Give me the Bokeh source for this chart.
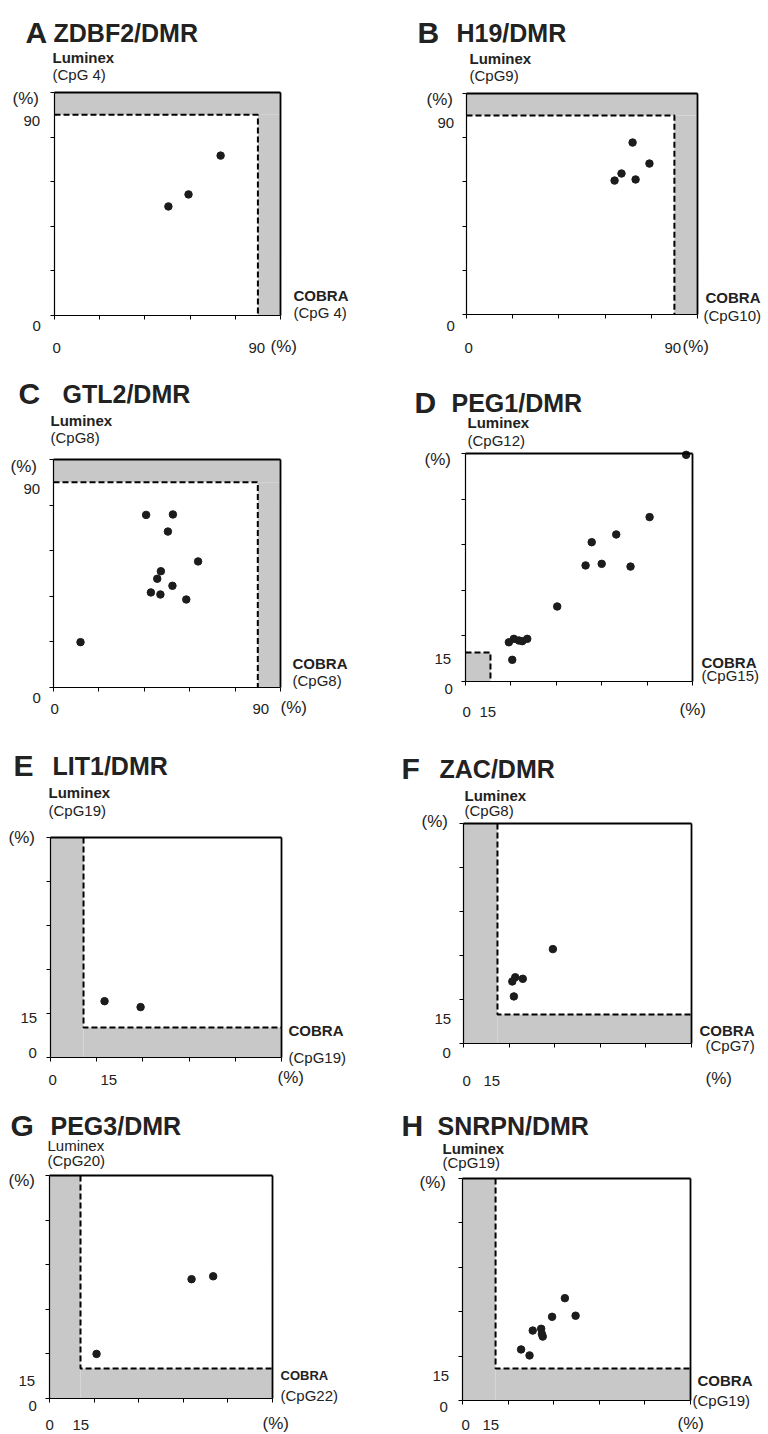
from bokeh.plotting import figure
from bokeh.layouts import column, row
from bokeh.models import Label, Range1d, LinearAxis
from bokeh.embed import file_html
from bokeh.resources import INLINE

# ---------------- data ----------------
panel_letters = ["A", "B", "C", "D", "E", "F", "G", "H"]
panel_genes = ["ZDBF2/DMR", "H19/DMR", "GTL2/DMR", "PEG1/DMR",
               "LIT1/DMR", "ZAC/DMR", "PEG3/DMR", "SNRPN/DMR"]
luminex_cpg = ["(CpG 4)", "(CpG9)", "(CpG8)", "(CpG12)",
               "(CpG19)", "(CpG8)", "(CpG20)", "(CpG19)"]
cobra_cpg = ["(CpG 4)", "(CpG10)", "(CpG8)", "(CpG15)",
             "(CpG19)", "(CpG7)", "(CpG22)", "(CpG19)"]
axis_ticks = [0, 20, 40, 60, 80, 100]

a_cobra = [50.4, 59.3, 73.5]
a_luminex = [48.9, 54.3, 71.7]
b_cobra = [64.1, 67.1, 71.9, 73.2, 79.2]
b_luminex = [60.6, 63.8, 77.8, 61.1, 68.3]
c_cobra = [11.9, 40.8, 52.6, 50.4, 63.7, 47.3, 45.7, 52.4, 42.9, 47.1, 58.5]
c_luminex = [19.9, 75.7, 75.9, 68.4, 55.3, 51.0, 47.7, 44.6, 41.7, 40.8, 38.6]
d_cobra = [97.2, 81.1, 66.4, 55.6, 52.9, 60.0, 72.7, 40.4, 19.1, 21.3, 23.5, 25.0, 27.2, 20.6]
d_luminex = [99.4, 72.1, 64.5, 61.1, 50.9, 51.6, 50.4, 32.9, 17.2, 18.7, 18.0, 17.7, 18.7, 9.5]
e_cobra = [23.4, 39.0]
e_luminex = [25.6, 22.9]
f_cobra = [39.2, 22.7, 21.4, 26.0, 22.1]
f_luminex = [42.9, 30.1, 28.2, 29.4, 21.4]
g_cobra = [21.1, 63.7, 73.4]
g_luminex = [20.0, 53.5, 54.8]
h_cobra = [25.7, 29.4, 30.8, 34.5, 34.8, 35.2, 39.3, 44.9, 49.6]
h_luminex = [23.0, 20.3, 31.5, 32.3, 30.0, 28.8, 37.7, 46.1, 38.2]

# cut-off lines as drawn (COBRA, Luminex)
cut_cobra = [90, 90, 90, 11.0, 14.3, 14.9, 13.9, 14.5]
cut_luminex = [90, 90, 90, 12.7, 13.6, 13.2, 13.5, 14.4]
cut_kind = ["high", "high", "high", "lowbox", "low", "low", "low", "low"]
ytick_text = [["90", "0"]] * 3 + [["15", "0"]] * 5
xtick_text = [["0", "90"]] * 3 + [["0", "15"]] * 5

all_cobra = [a_cobra, b_cobra, c_cobra, d_cobra, e_cobra, f_cobra, g_cobra, h_cobra]
all_luminex = [a_luminex, b_luminex, c_luminex, d_luminex, e_luminex, f_luminex, g_luminex, h_luminex]

# ---------------- layout (page pixels) ----------------
COL_X = [0, 384]
COL_W = [384, 384]
ROW_Y = [0, 358, 722, 1090]
ROW_H = [358, 364, 368, 344]

# plot boxes: left, top, right, bottom
frames = [(54, 92, 280, 315), (466, 93, 697, 314),
          (53, 459, 280, 687), (465, 453, 692, 681),
          (50, 837, 281, 1057), (463, 823, 691, 1043),
          (49, 1175, 272, 1398), (462, 1178, 690, 1400)]

# text anchors (left x, baseline y)
txt = [
    dict(letter=(25, 32), gene=(53, 32), lum=(52, 57), lcpg=(52, 74), pcty=(12, 98),
         ylab=[(23, 120), (32, 325)], xlab=[(52, 347), (248, 347)], pctx=(270, 346),
         cobra=(293, 295), ccpg=(293, 312)),
    dict(letter=(417, 32), gene=(456, 32), lum=(469, 58), lcpg=(469, 75), pcty=(426, 99),
         ylab=[(437, 122), (446, 325)], xlab=[(464, 347), (664, 347)], pctx=(682, 346),
         cobra=(705, 297), ccpg=(703, 315)),
    dict(letter=(18, 393), gene=(62, 393), lum=(50, 420), lcpg=(50, 437), pcty=(10, 466),
         ylab=[(23, 488), (32, 697)], xlab=[(50, 708), (252, 708)], pctx=(280, 707),
         cobra=(292, 663), ccpg=(292, 680)),
    dict(letter=(414, 402), gene=(451, 402), lum=(467, 422), lcpg=(467, 440), pcty=(424, 459),
         ylab=[(434, 658), (444, 688)], xlab=[(462, 711), (479, 711)], pctx=(679, 709),
         cobra=(701, 662), ccpg=(701, 675)),
    dict(letter=(13, 765), gene=(52, 765), lum=(48, 792), lcpg=(48, 810), pcty=(8, 837),
         ylab=[(20, 1017), (28, 1052)], xlab=[(48, 1079), (100, 1079)], pctx=(277, 1077),
         cobra=(288, 1030), ccpg=(288, 1057)),
    dict(letter=(401, 768), gene=(439, 768), lum=(464, 795), lcpg=(464, 810), pcty=(421, 821),
         ylab=[(434, 1018), (442, 1052)], xlab=[(462, 1080), (483, 1080)], pctx=(705, 1078),
         cobra=(699, 1030), ccpg=(705, 1045)),
    dict(letter=(10, 1125), gene=(50, 1125), lum=(47, 1145), lcpg=(47, 1160), pcty=(8, 1180),
         ylab=[(18, 1380), (28, 1405)], xlab=[(45, 1424), (72, 1424)], pctx=(262, 1423),
         cobra=(280, 1375), ccpg=(280, 1395)),
    dict(letter=(401, 1125), gene=(437, 1125), lum=(442, 1148), lcpg=(442, 1162), pcty=(419, 1182),
         ylab=[(432, 1375), (439, 1406)], xlab=[(461, 1424), (482, 1424)], pctx=(677, 1423),
         cobra=(697, 1380), ccpg=(692, 1400)),
]

FONT = "Liberation Sans"
SHADE = "#c8c8c8"
INK = "#1c1c1c"


def make_panel(i):
    r, c = divmod(i, 2)
    fx, fy, fw, fh = COL_X[c], ROW_Y[r], COL_W[c], ROW_H[r]
    L, T, R, B = frames[i]
    sx = 100.0 / (R - L)
    sy = 100.0 / (B - T)
    # the frame fills the whole figure; the 0-100 box sits inside it
    xr = Range1d((fx - L) * sx, (fx + fw - L) * sx)
    yr = Range1d((B - (fy + fh)) * sy, (B - fy) * sy)
    p = figure(width=fw, height=fh, output_backend="svg", toolbar_location=None,
               x_range=xr, y_range=yr, x_axis_location=None, y_axis_location=None,
               min_border=0)
    p.grid.visible = False
    p.outline_line_color = None
    p.background_fill_color = "white"
    p.border_fill_color = "white"

    cx, cy = cut_cobra[i], cut_luminex[i]
    kind = cut_kind[i]
    if kind == "high":
        p.quad(left=[0, cx], right=[100, 100], bottom=[cy, 0], top=[100, cy],
               fill_color=SHADE, line_color=None)
        p.line([0, cx, cx], [cy, cy, 0], line_color="black", line_width=2, line_dash="6 3")
    elif kind == "lowbox":
        p.quad(left=[0], right=[cx], bottom=[0], top=[cy], fill_color=SHADE, line_color=None)
        p.line([0, cx, cx], [cy, cy, 0], line_color="black", line_width=2, line_dash="6 3")
    else:
        p.quad(left=[0, cx], right=[cx, 100], bottom=[0, 0], top=[100, cy],
               fill_color=SHADE, line_color=None)
        p.line([cx, cx, 100], [100, cy, cy], line_color="black", line_width=2, line_dash="6 3")

    p.scatter(all_cobra[i], all_luminex[i], size=7.5, fill_color=INK, line_color=INK)

    # axes of the library, pinned to the 0-100 box
    for side, loc, ticks, lw in (("below", 0, True, 1.2), ("left", 0, True, 1.2),
                                 ("above", 100, False, 1.8), ("right", 100, False, 1.8)):
        ax = LinearAxis(fixed_location=loc, bounds=(0, 100))
        ax.ticker = axis_ticks
        ax.major_label_overrides = {t: "" for t in axis_ticks}
        ax.minor_tick_line_color = None
        ax.axis_line_color = "black"
        ax.axis_line_width = lw
        if ticks:
            ax.major_tick_in = 0
            ax.major_tick_out = 4
            ax.major_tick_line_color = "black"
        else:
            ax.major_tick_line_color = None
        p.add_layout(ax, side)

    def put(text, pos, size, bold=False):
        px, py = pos
        p.add_layout(Label(x=(px - L) * sx, y=(B - py) * sy, text=text, text_font=FONT,
                           text_font_size=f"{size}px",
                           text_font_style="bold" if bold else "normal",
                           text_color="#222222", text_align="left",
                           text_baseline="alphabetic"))

    t = txt[i]
    put(panel_letters[i], t["letter"], 30, True)
    put(panel_genes[i], t["gene"], 25, True)
    put("Luminex", t["lum"], 15, i != 6)
    put(luminex_cpg[i], t["lcpg"], 15)
    put("(%)", t["pcty"], 17)
    for s, pos in zip(ytick_text[i], t["ylab"]):
        put(s, pos, 15)
    for s, pos in zip(xtick_text[i], t["xlab"]):
        put(s, pos, 15)
    put("(%)", t["pctx"], 17)
    put("COBRA", t["cobra"], 13 if i == 6 else 15, True)
    put(cobra_cpg[i], t["ccpg"], 15)
    return p


figs = [make_panel(i) for i in range(8)]
layout = column(*[row(figs[2 * k], figs[2 * k + 1]) for k in range(4)])
open("out.html", "w").write(file_html(layout, INLINE))
